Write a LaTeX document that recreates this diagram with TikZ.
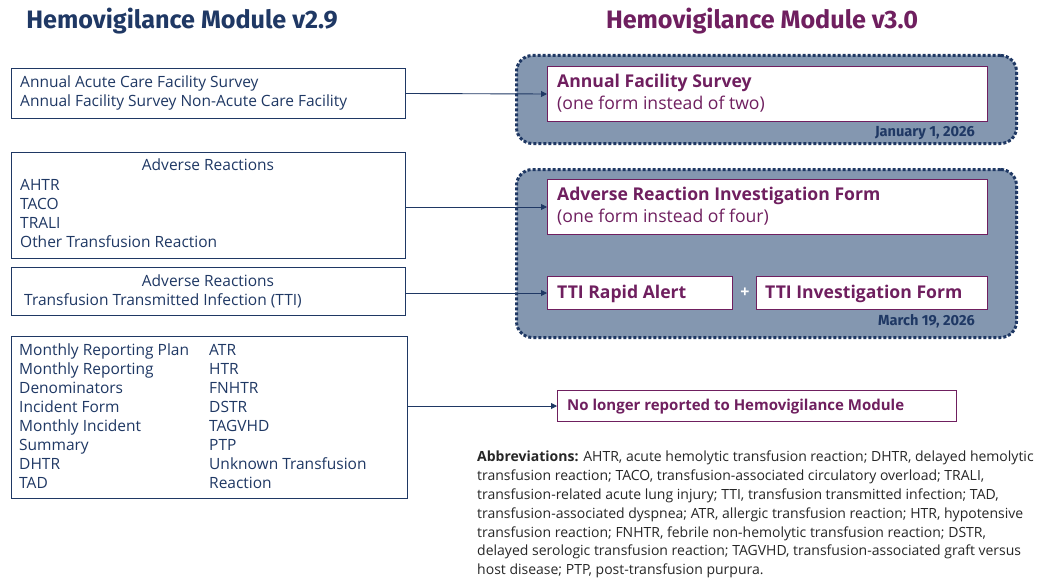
\documentclass[tikz,border=0pt]{standalone}
\usepackage{fontspec}
\setmainfont{Open Sans}
\newfontfamily\titlefont{Fira Sans}
\usetikzlibrary{arrows.meta}
\definecolor{navy}{HTML}{1F3864}
\definecolor{plum}{HTML}{6F1F5F}
\definecolor{slate}{HTML}{8497B0}
\definecolor{abbr}{HTML}{262626}
\begin{document}
\begin{tikzpicture}[x=1pt,y=-1pt,
  oldbox/.style={draw=navy, line width=1pt, anchor=north west, inner sep=0pt, fill=white},
  newbox/.style={draw=plum, line width=1pt, anchor=north west, inner sep=0pt, fill=white},
  group/.style={draw=navy, fill=slate, line width=3pt, dash pattern=on 3pt off 2pt, rounded corners=16pt, anchor=north west, inner sep=0pt},
  lt/.style={anchor=west, inner sep=0pt, text=navy, font=\fontsize{15.5}{17}\selectfont, text height=11pt, text depth=0pt},
  ct/.style={lt, anchor=center},
  nt/.style={anchor=west, inner sep=0pt, text=plum, font=\fontsize{17.6}{20}\selectfont\bfseries, text height=12.6pt, text depth=0pt},
  ns/.style={anchor=west, inner sep=0pt, text=plum, font=\fontsize{17.6}{19}\selectfont, text height=12.6pt, text depth=0pt},
  datet/.style={anchor=east, inner sep=0pt, text=navy, font=\titlefont\fontsize{14.6}{16}\selectfont\bfseries, text height=10pt, text depth=0pt},
  ttl/.style={inner sep=0pt, font=\titlefont\fontsize{25.2}{27}\selectfont\bfseries, text height=17.4pt, text depth=0pt},
  arr/.style={-{Triangle[length=6pt,width=6pt]}, draw=navy, line width=0.9pt}
]
\useasboundingbox (0,0) rectangle (1038,578);

% titles
\node[ttl, text=navy] (t1) at (182,20) {Hemovigilance Module v2.9};
\node[ttl, text=plum] (t2) at (762,20) {Hemovigilance Module v3.0};

% old boxes
\node[oldbox, minimum width=394pt, minimum height=50pt] (A) at (11,68) {};
\node[lt] (a1) at (20,81.5) {Annual Acute Care Facility Survey};
\node[lt] (a2) at (20,100.5) {Annual Facility Survey Non-Acute Care Facility};

\node[oldbox, minimum width=394pt, minimum height=106pt] (B) at (11,152) {};
\node[ct] (b0) at (208,165) {Adverse Reactions};
\node[lt] (b1) at (20,184.5) {AHTR};
\node[lt] (b2) at (20,203.5) {TACO};
\node[lt] (b3) at (20,222.5) {TRALI};
\node[lt] (b4) at (20,241.5) {Other Transfusion Reaction};

\node[oldbox, minimum width=394pt, minimum height=48pt] (C) at (11,267) {};
\node[ct] (c0) at (208,280.5) {Adverse Reactions};
\node[lt] (c1) at (24,299.5) {Transfusion Transmitted Infection (TTI)};

\node[oldbox, minimum width=396pt, minimum height=162pt] (D) at (11,336) {};
\foreach \t [count=\i] in {Monthly Reporting Plan, Monthly Reporting, Denominators, Incident Form, Monthly Incident, Summary, DHTR, TAD}
  \node[lt] (dl\i) at (19,{349.5+19*(\i-1)}) {\t};
\foreach \t [count=\i] in {ATR, HTR, FNHTR, DSTR, TAGVHD, PTP, Unknown Transfusion, Reaction}
  \node[lt] (dr\i) at (209,{349.5+19*(\i-1)}) {\t};

% new groups
\node[group, minimum width=500pt, minimum height=88pt] (G1) at (515,54) {};
\node[newbox, minimum width=440pt, minimum height=55pt] (S1) at (547,66) {};
\node[nt] (s1a) at (557,81) {Annual Facility Survey};
\node[ns] (s1b) at (557,103) {(one form instead of two)};
\node[datet] (d1) at (975,131) {January 1, 2026};

\node[group, minimum width=500pt, minimum height=168pt] (G2) at (515,168) {};
\node[newbox, minimum width=440pt, minimum height=55pt] (S2) at (547,179) {};
\node[nt] (s2a) at (557,194) {Adverse Reaction Investigation Form};
\node[ns] (s2b) at (557,216) {(one form instead of four)};
\node[newbox, minimum width=185pt, minimum height=33pt] (T1) at (547,276) {};
\node[nt] (t1a) at (557,292.5) {TTI Rapid Alert};
\node[inner sep=0pt, text=white, font=\fontsize{16}{18}\selectfont\bfseries] (plus) at (745,293) {+};
\node[newbox, minimum width=231pt, minimum height=33pt] (T2) at (756,276) {};
\node[nt] (t2a) at (765,292.5) {TTI Investigation Form};
\node[datet] (d2) at (975,320) {March 19, 2026};

% no longer reported
\node[newbox, minimum width=399pt, minimum height=31pt] (N) at (557,390) {};
\node[nt, font=\fontsize{15}{17}\selectfont\bfseries, text height=10.7pt] (n1) at (567,405) {No longer reported to Hemovigilance Module};

% arrows
\draw[arr] (A.east) -- (S1.west);
\draw[arr] (B.east |- S2.west) -- (S2.west);
\draw[arr] (C.east |- T1.west) -- (T1.west);
\draw[arr] (D.east |- N.west) -- (N.west);

% abbreviations
\node[anchor=north west, inner sep=0pt, align=left, text=abbr, font=\fontsize{14}{18.8}\selectfont] (ab) at (477,451) {%
\textbf{Abbreviations:} AHTR, acute hemolytic transfusion reaction; DHTR, delayed hemolytic\\
transfusion reaction; TACO, transfusion-associated circulatory overload; TRALI,\\
transfusion-related acute lung injury; TTI, transfusion transmitted infection; TAD,\\
transfusion-associated dyspnea; ATR, allergic transfusion reaction; HTR, hypotensive\\
transfusion reaction; FNHTR, febrile non-hemolytic transfusion reaction; DSTR,\\
delayed serologic transfusion reaction; TAGVHD, transfusion-associated graft versus\\
host disease; PTP, post-transfusion purpura.};
\end{tikzpicture}
\end{document}
